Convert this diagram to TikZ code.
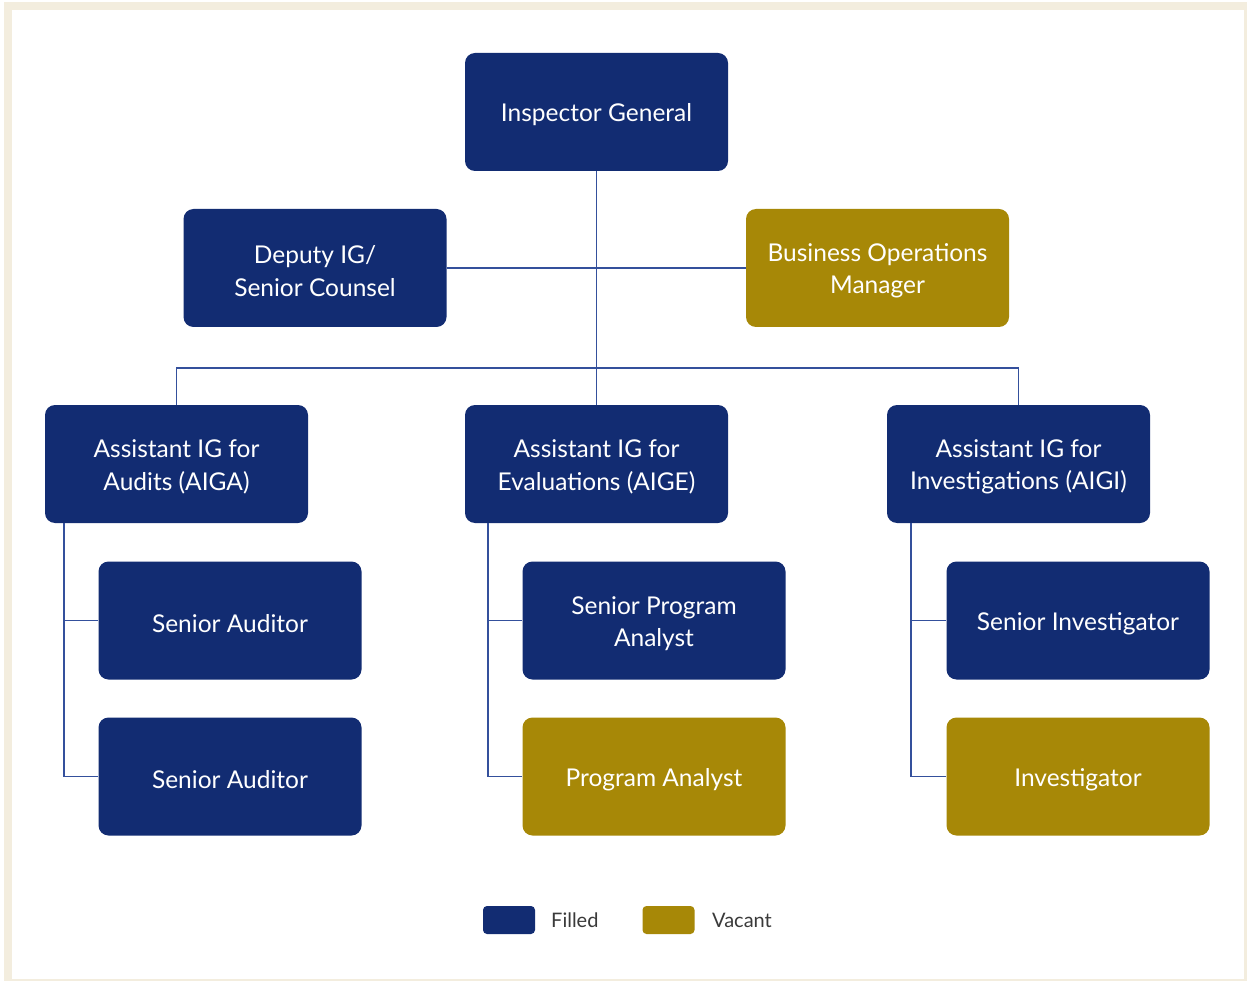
\documentclass[tikz,border=0pt]{standalone}
\usepackage{fontspec}
\setmainfont{Lato}
\definecolor{navy}{HTML}{122C72}
\definecolor{gold}{HTML}{A78807}
\definecolor{cream}{HTML}{F3EDDE}
\definecolor{linec}{HTML}{34509C}
\definecolor{legtext}{HTML}{3A3A3A}
\tikzset{
  lab/.style={inner sep=0pt, text=white, align=center, font=\fontsize{24.5}{32.5}\selectfont, yshift=-3pt},
  box/.style={rectangle, rounded corners=10pt, minimum width=263pt, minimum height=118pt,
    inner sep=0pt, label={[lab]center:#1}},
  filled/.style={box=#1, fill=navy},
  vacant/.style={box=#1, fill=gold},
  conn/.style={draw=linec, line width=1.8pt},
  legbox/.style={rectangle, rounded corners=4pt, minimum width=52pt, minimum height=28pt, inner sep=0pt},
  legtxt/.style={text=legtext, font=\fontsize{20}{22}\selectfont, anchor=west, inner sep=0pt}
}
\begin{document}
\begin{tikzpicture}[x=1pt,y=-1pt]
\useasboundingbox (0,0) rectangle (1247,981);
\fill[cream] (4,2) rectangle (1247,981);
\fill[white] (12,10) rectangle (1244,979);
% boxes
\node[filled={Inspector General}] (ig) at (596.5,112) {};
\node[filled={Deputy IG/\\Senior Counsel}] (dep) at (315,268) {};
\node[vacant={Business Operations\\Manager}] (bom) at (877.5,268) {};
\node[filled={Assistant IG for\\Audits (AIGA)}] (aiga) at (176.5,464) {};
\node[filled={Assistant IG for\\Evaluations (AIGE)}] (aige) at (596.5,464) {};
\node[filled={Assistant IG for\\Investigations (AIGI)}] (aigi) at (1018.5,464) {};
\node[filled={Senior Auditor}] (sa1) at (230,620.5) {};
\node[filled={Senior Auditor}] (sa2) at (230,776.5) {};
\node[filled={Senior Program\\Analyst}] (spa) at (654,620.5) {};
\node[vacant={Program Analyst}] (pa) at (654,776.5) {};
\begin{scope}
\clip (0,0) rectangle (1210.5,981);
\node[filled={Senior Investigator}] (si) at (1078,620.5) {};
\node[vacant={Investigator}] (inv) at (1078,776.5) {};
\end{scope}
% connectors
\coordinate (bar) at (596.5,368);
\draw[conn] (ig.south) -- (aige.north);
\draw[conn] (dep.east) -- (bom.west);
\draw[conn] (aiga.north) |- (bar) -| (aigi.north);
\coordinate (la) at (64,523);
\coordinate (ma) at (488,523);
\coordinate (ra) at (911,523);
\draw[conn] (la) |- (sa2.west);
\draw[conn] (la |- sa1.west) -- (sa1.west);
\draw[conn] (ma) |- (pa.west);
\draw[conn] (ma |- spa.west) -- (spa.west);
\draw[conn] (ra) |- (inv.west);
\draw[conn] (ra |- si.west) -- (si.west);
% legend
\node[legbox, fill=navy] (lf) at (509,920) {};
\node[legtxt] (lft) at (551,920) {Filled};
\node[legbox, fill=gold] (lv) at (668.5,920) {};
\node[legtxt] (lvt) at (712,920) {Vacant};
\end{tikzpicture}
\end{document}
